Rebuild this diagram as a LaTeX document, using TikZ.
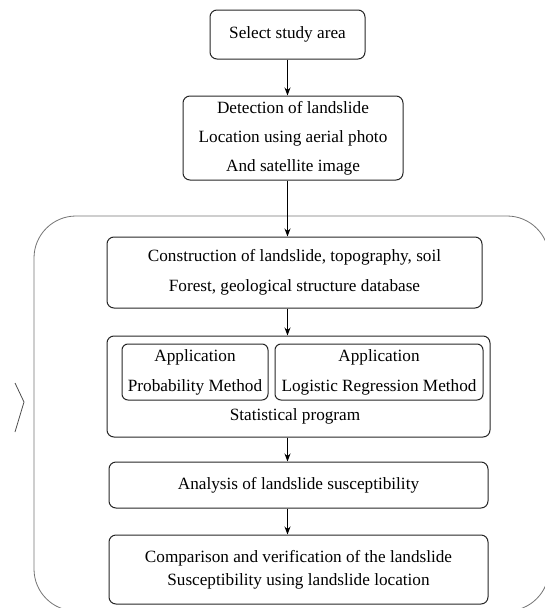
\documentclass[tikz,border=0pt]{standalone}
\usepackage{fontspec}
\setmainfont{Liberation Serif}
\usetikzlibrary{arrows.meta}
\begin{document}
\begin{tikzpicture}[x=1pt, y=-1pt, font=\fontsize{17.2}{29}\selectfont,
    box/.style = {draw=black!85, line width=1pt, rounded corners=7pt, align=center, inner sep=0pt},
    flow/.style = {-{Stealth[length=8pt, width=6pt]}, line width=1pt}]
    \useasboundingbox (0,0) rectangle (545,608);
    % Riquadro esterno e segno a sinistra
    \node[draw=black!55, line width=0.8pt, rounded corners=42pt, minimum width=515pt, minimum height=395pt] (frame) at (291.5,413.5) {};
    \draw[black!70, line width=0.8pt] (15,383) -- (24,402) -- (15,432);

    % Disegna i blocchi
    \node[box, minimum width=155pt, minimum height=49pt] (select) at (287.5,34.5) {Select study area};
    \node[box, minimum width=220pt, minimum height=84pt] (detect) at (293,138) {Detection of landslide\\Location using aerial photo\\And satellite image};
    \node[box, minimum width=375pt, minimum height=71pt, font=\fontsize{17.2}{30}\selectfont] (construct) at (294.5,272.5) {Construction of landslide, topography, soil\\Forest, geological structure database};
    \node[box, minimum width=383pt, minimum height=101pt] (stat) at (298.5,386.5) {};
    \node[box, rounded corners=6pt, minimum width=146pt, minimum height=56pt, font=\fontsize{17.2}{30}\selectfont] (prob) at (195,372) {Application\\Probability Method};
    \node[box, rounded corners=6pt, minimum width=208pt, minimum height=56pt, font=\fontsize{17.2}{30}\selectfont] (logit) at (379,372) {Application\\Logistic Regression Method};
    \node (statlabel) at (295,416) {Statistical program};
    \node[box, minimum width=379pt, minimum height=46pt] (analysis) at (298.5,485) {Analysis of landslide susceptibility};
    \node[box, minimum width=379pt, minimum height=69pt, font=\fontsize{17.2}{23}\selectfont] (compare) at (298.5,569.5) {Comparison and verification of the landslide\\Susceptibility using landslide location};

    \draw[flow] (select.south) -- (detect.north -| select.south);
    \draw[flow] (detect.south -| select.south) -- (construct.north -| select.south);
    \draw[flow] (construct.south -| select.south) -- (stat.north -| select.south);
    \draw[flow] (stat.south -| select.south) -- (analysis.north -| select.south);
    \draw[flow] (analysis.south -| select.south) -- (compare.north -| select.south);

\end{tikzpicture}
\end{document}
